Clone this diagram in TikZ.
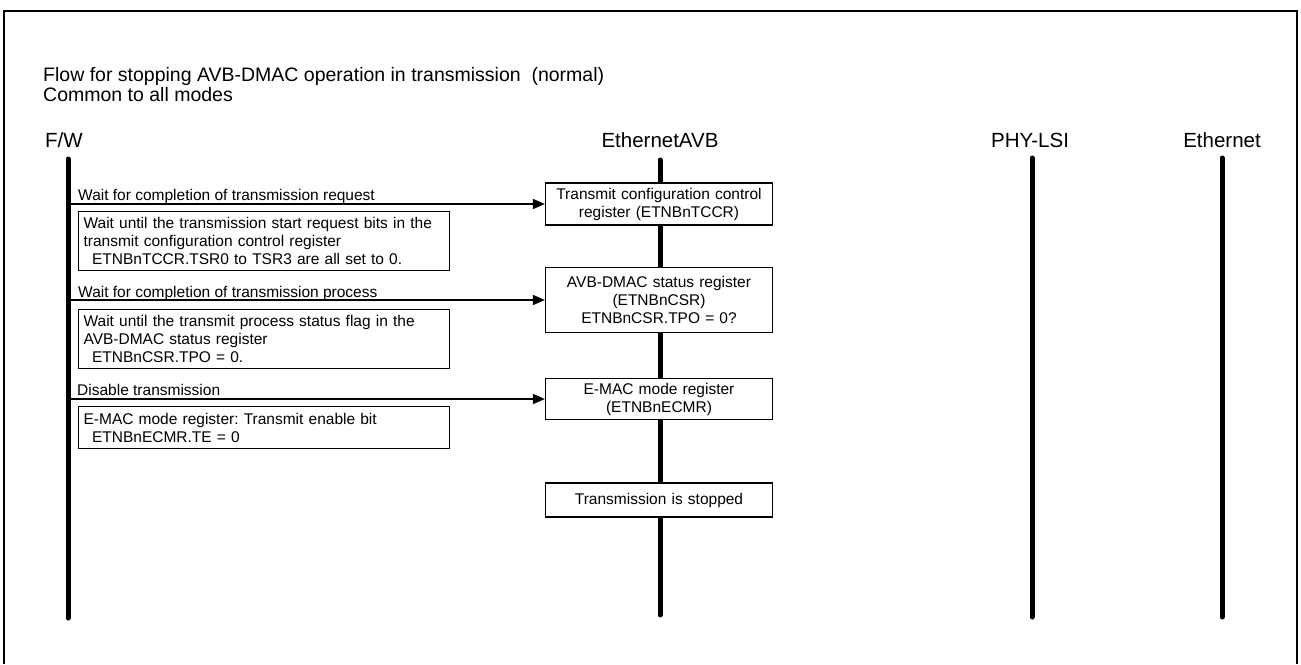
\documentclass[tikz,border=0pt]{standalone}
\usepackage{fontspec}
\setmainfont{Liberation Sans}
\frenchspacing
\usepackage{tikz}
\usetikzlibrary{arrows.meta, positioning}
\tikzset{
  lifeline/.style={line width=5pt, line cap=round, black},
  msg/.style={-{Triangle[length=12pt, width=10pt]}, line width=1.5pt},
  regbox/.style={
    rectangle, draw, line width=1.2pt, fill=white,
    minimum width=227pt, text width=221pt, align=center,
    inner sep=3pt, font=\fontsize{15.5}{18}\selectfont
  },
  notebox/.style={
    rectangle, draw, line width=1.2pt, fill=white, anchor=north west,
    minimum width=371pt, text width=361pt, align=left,
    inner xsep=5pt, inner ysep=3pt, font=\fontsize{15.5}{18}\selectfont
  },
  msglabel/.style={anchor=base west, inner sep=0pt, font=\fontsize{15.5}{18}\selectfont},
  actor/.style={anchor=base, inner sep=0pt, font=\fontsize{20.5}{22}\selectfont},
}
\newcommand{\ind}{\hspace*{8.5pt}}

\begin{document}
\begin{tikzpicture}[x=1pt, y=-1pt]

  \useasboundingbox (0,0) rectangle (1301,664);

  % Frame (open at the bottom)
  \draw[line width=1.5pt] (4,664) -- (4,11) -- (1297,11) -- (1297,664);

  % Title
  \node[anchor=base west, inner sep=0pt, align=left,
        font=\fontsize{19.5}{19.5}\selectfont] (title) at (43,101)
    {Flow for stopping AVB-DMAC operation in transmission \ (normal)\\
     Common to all modes};

  % Actors
  \node[actor, anchor=base west] (fw) at (45,147) {F/W};
  \node[actor] (avb) at (660,147) {EthernetAVB};
  \node[actor] (phy) at (1030,147) {PHY-LSI};
  \node[actor] (eth) at (1222,147) {Ethernet};

  % Lifelines
  \coordinate (fwT)  at (68,159);   \coordinate (fwB)  at (68,618);
  \coordinate (avbT) at (660,160);  \coordinate (avbB) at (660,615);
  \coordinate (phyT) at (1032,158); \coordinate (phyB) at (1032,617);
  \coordinate (ethT) at (1222,158); \coordinate (ethB) at (1222,617);
  \draw[lifeline] (fwT) -- (fwB);
  \draw[lifeline] (avbT) -- (avbB);
  \draw[lifeline] (phyT) -- (phyB);
  \draw[lifeline] (ethT) -- (ethB);

  % Register boxes on EthernetAVB
  \node[regbox, minimum height=42pt] (tccr) at (659,204)
    {Transmit configuration control\\register (ETNBnTCCR)};
  \node[regbox, minimum height=65pt] (csr) at (659,300)
    {AVB-DMAC status register\\(ETNBnCSR)\\ETNBnCSR.TPO = 0?};
  \node[regbox, minimum height=41pt] (ecmr) at (659,399)
    {E-MAC mode register\\(ETNBnECMR)};
  \node[regbox, minimum height=34pt] (stop) at (659,500)
    {Transmission is stopped};

  % Messages
  \draw[msg] (fwT |- tccr.west) -- (tccr.west);
  \draw[msg] (fwT |- csr.west) -- (csr.west);
  \draw[msg] (fwT |- ecmr.west) -- (ecmr.west);
  \node[msglabel] (l1) at (78,200) {Wait for completion of transmission request};
  \node[msglabel] (l2) at (78,297) {Wait for completion of transmission process};
  \node[msglabel] (l3) at (77,395) {Disable transmission};

  % Notes
  \node[notebox, minimum height=59pt] (n1) at (78,211)
    {Wait until the transmission start request bits in the\\
     transmit configuration control register\\
     \ind ETNBnTCCR.TSR0 to TSR3 are all set to 0.};
  \node[notebox, minimum height=59pt] (n2) at (78,309)
    {Wait until the transmit process status flag in the\\
     AVB-DMAC status register\\
     \ind ETNBnCSR.TPO = 0.};
  \node[notebox, minimum height=42pt, minimum width=369pt] (n3) at (78,406)
    {E-MAC mode register: Transmit enable bit\\
     \ind ETNBnECMR.TE = 0};

\end{tikzpicture}
\end{document}
